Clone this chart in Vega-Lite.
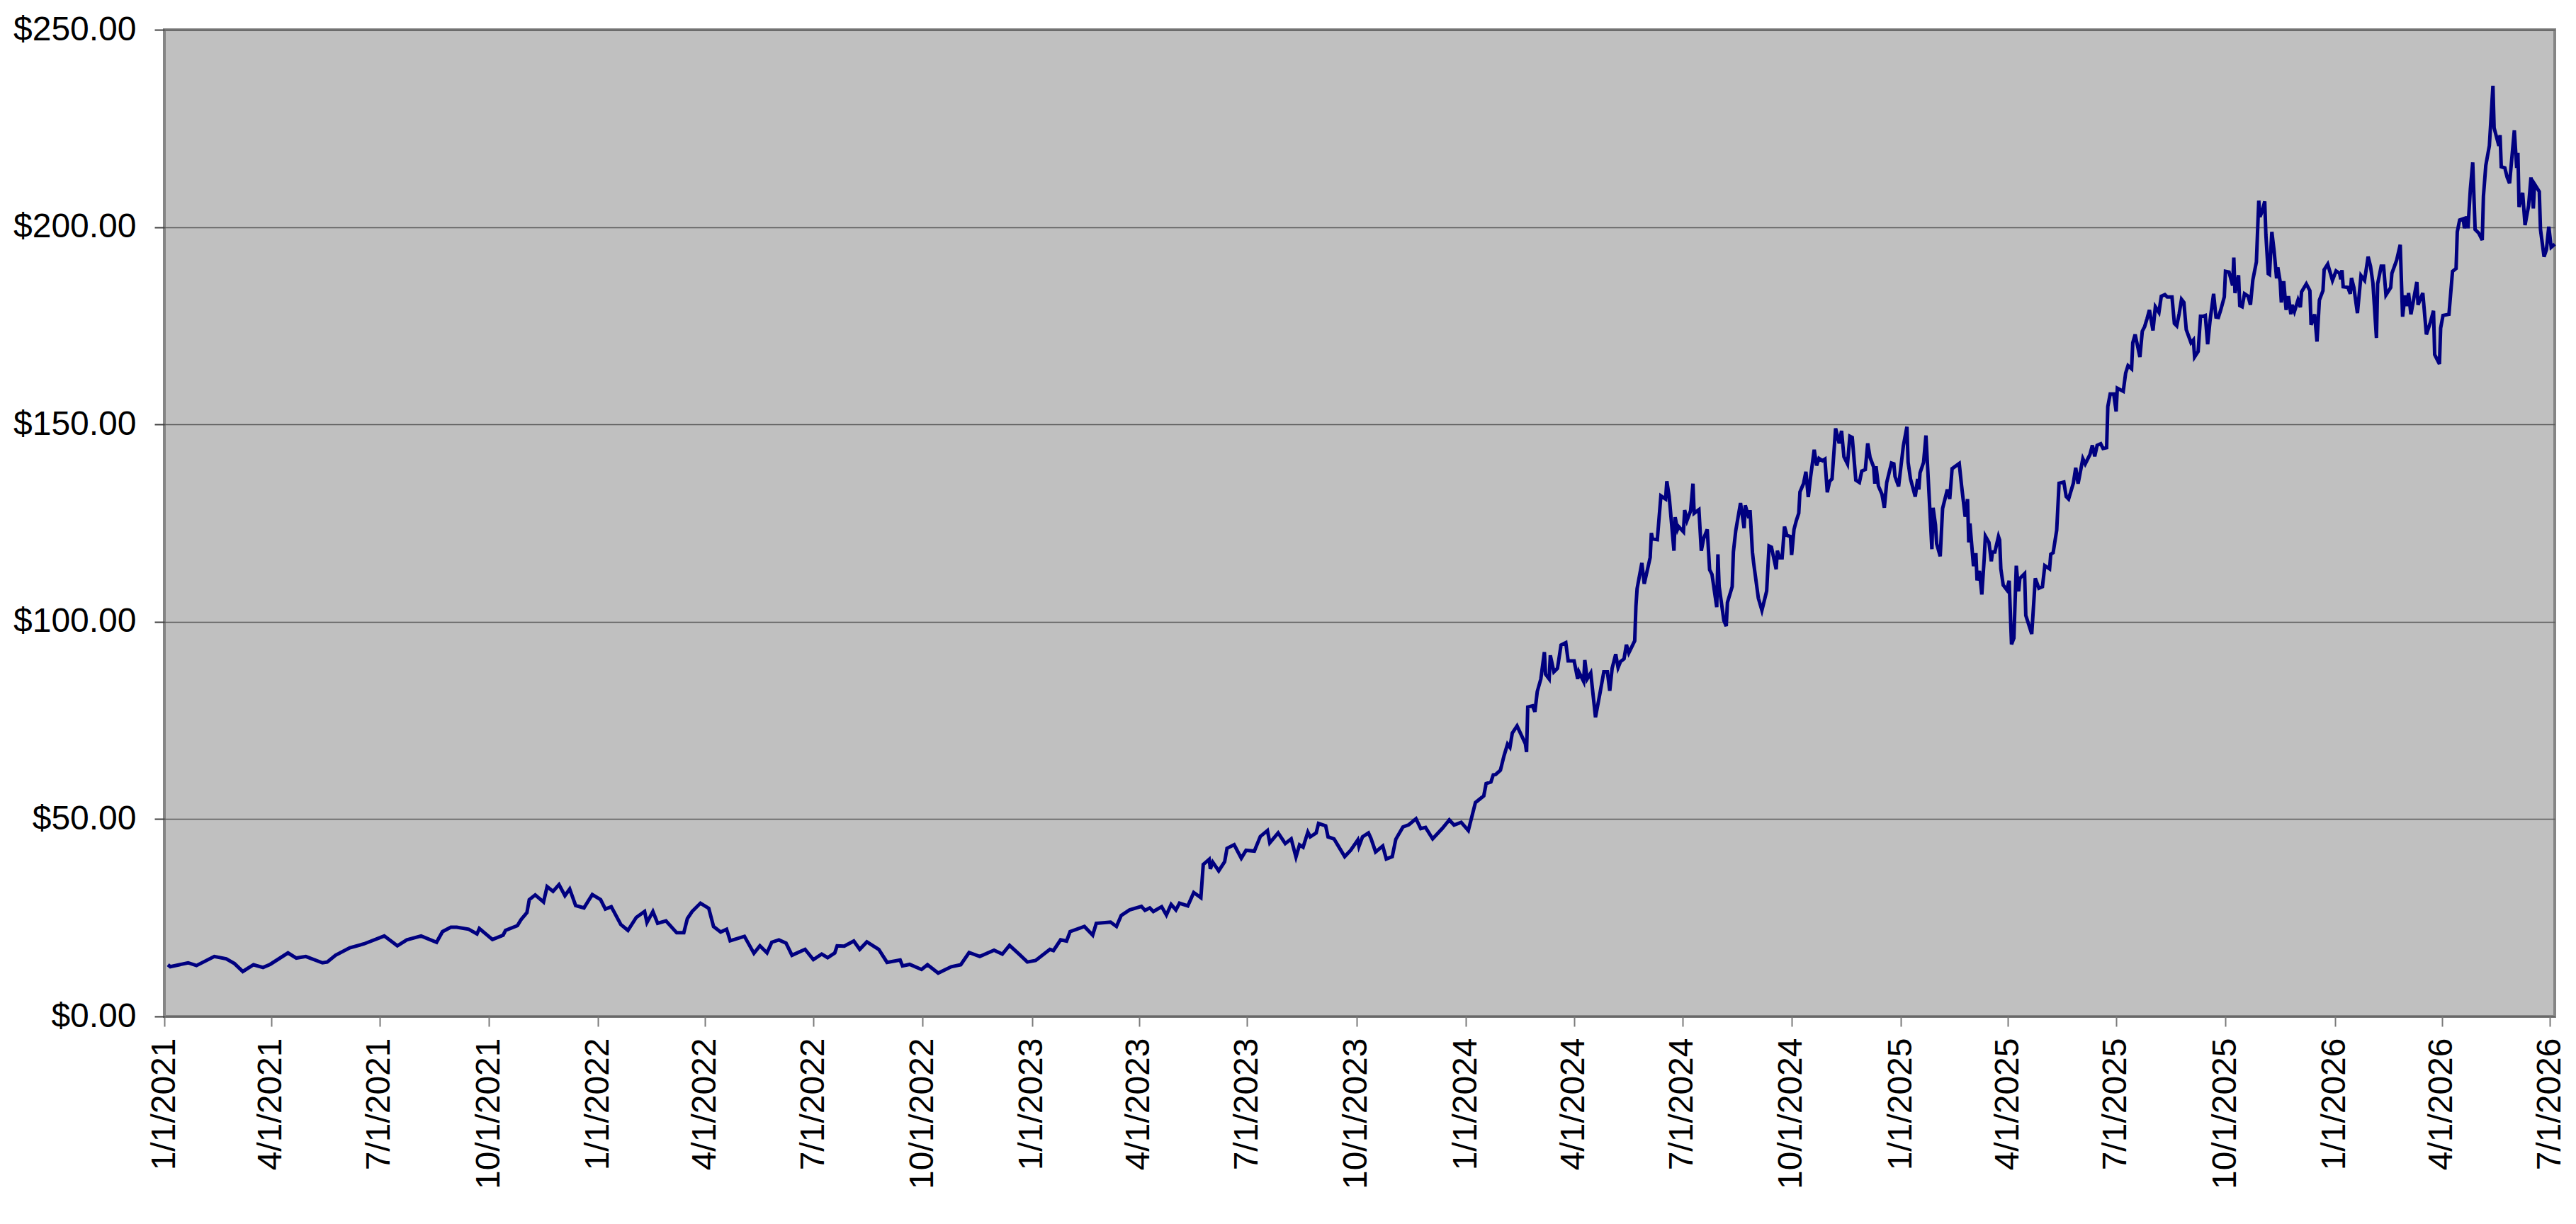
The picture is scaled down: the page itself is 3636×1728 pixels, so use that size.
{
  "$schema": "https://vega.github.io/schema/vega-lite/v6.json",
  "width": 3374,
  "height": 1393,
  "autosize": {"type": "none"},
  "padding": {"left": 232, "top": 42, "right": 30, "bottom": 293},
  "background": "white",
  "config": {"view": {"fill": "#C0C0C0", "stroke": "#858585", "strokeWidth": 4}},
  "data": {"values": [
    {"date": "2021-01-04", "price": 13.1}, {"date": "2021-01-06", "price": 12.6}, {"date": "2021-01-21", "price": 13.6}, {"date": "2021-01-28", "price": 12.9},
    {"date": "2021-02-12", "price": 15.2}, {"date": "2021-02-22", "price": 14.6}, {"date": "2021-03-01", "price": 13.4}, {"date": "2021-03-08", "price": 11.4},
    {"date": "2021-03-17", "price": 13.1}, {"date": "2021-03-25", "price": 12.4}, {"date": "2021-03-31", "price": 13.2}, {"date": "2021-04-15", "price": 16.1},
    {"date": "2021-04-22", "price": 14.8}, {"date": "2021-04-30", "price": 15.2}, {"date": "2021-05-14", "price": 13.6}, {"date": "2021-05-18", "price": 13.8},
    {"date": "2021-05-25", "price": 15.5}, {"date": "2021-06-06", "price": 17.4}, {"date": "2021-06-18", "price": 18.4}, {"date": "2021-07-05", "price": 20.4},
    {"date": "2021-07-16", "price": 17.9}, {"date": "2021-07-24", "price": 19.4}, {"date": "2021-08-05", "price": 20.4}, {"date": "2021-08-18", "price": 18.8},
    {"date": "2021-08-23", "price": 21.5}, {"date": "2021-08-30", "price": 22.6}, {"date": "2021-09-04", "price": 22.6}, {"date": "2021-09-14", "price": 22.1},
    {"date": "2021-09-21", "price": 20.9}, {"date": "2021-09-23", "price": 22.3}, {"date": "2021-10-04", "price": 19.5}, {"date": "2021-10-13", "price": 20.6},
    {"date": "2021-10-15", "price": 21.8}, {"date": "2021-10-25", "price": 23.0}, {"date": "2021-10-28", "price": 24.5}, {"date": "2021-11-02", "price": 26.3},
    {"date": "2021-11-04", "price": 29.6}, {"date": "2021-11-09", "price": 30.8}, {"date": "2021-11-16", "price": 29.0}, {"date": "2021-11-19", "price": 32.9},
    {"date": "2021-11-24", "price": 31.7}, {"date": "2021-11-29", "price": 33.4}, {"date": "2021-12-04", "price": 30.6}, {"date": "2021-12-08", "price": 32.3},
    {"date": "2021-12-13", "price": 28.1}, {"date": "2021-12-20", "price": 27.5}, {"date": "2021-12-27", "price": 30.9},
    {"date": "2022-01-03", "price": 29.6}, {"date": "2022-01-07", "price": 27.2}, {"date": "2022-01-12", "price": 27.8}, {"date": "2022-01-20", "price": 23.3},
    {"date": "2022-01-26", "price": 21.8}, {"date": "2022-02-02", "price": 25.1}, {"date": "2022-02-09", "price": 26.6}, {"date": "2022-02-11", "price": 23.8},
    {"date": "2022-02-16", "price": 26.6}, {"date": "2022-02-20", "price": 23.6}, {"date": "2022-02-27", "price": 24.2}, {"date": "2022-03-08", "price": 21.2},
    {"date": "2022-03-14", "price": 21.2}, {"date": "2022-03-17", "price": 24.8}, {"date": "2022-03-21", "price": 26.6}, {"date": "2022-03-28", "price": 28.7},
    {"date": "2022-04-04", "price": 27.4}, {"date": "2022-04-08", "price": 22.8}, {"date": "2022-04-14", "price": 21.4}, {"date": "2022-04-19", "price": 22.1},
    {"date": "2022-04-22", "price": 19.2}, {"date": "2022-05-04", "price": 20.3}, {"date": "2022-05-12", "price": 16.0}, {"date": "2022-05-17", "price": 17.9},
    {"date": "2022-05-23", "price": 16.1}, {"date": "2022-05-27", "price": 18.8}, {"date": "2022-06-02", "price": 19.4}, {"date": "2022-06-08", "price": 18.6},
    {"date": "2022-06-13", "price": 15.5}, {"date": "2022-06-24", "price": 17.0}, {"date": "2022-07-01", "price": 14.4}, {"date": "2022-07-08", "price": 15.8},
    {"date": "2022-07-13", "price": 14.9}, {"date": "2022-07-19", "price": 16.1}, {"date": "2022-07-21", "price": 17.9}, {"date": "2022-07-27", "price": 17.8},
    {"date": "2022-08-04", "price": 19.1}, {"date": "2022-08-09", "price": 17.0}, {"date": "2022-08-15", "price": 18.9}, {"date": "2022-08-25", "price": 17.0},
    {"date": "2022-09-01", "price": 13.7}, {"date": "2022-09-12", "price": 14.3}, {"date": "2022-09-14", "price": 12.8}, {"date": "2022-09-20", "price": 13.2},
    {"date": "2022-09-30", "price": 11.9}, {"date": "2022-10-05", "price": 13.1}, {"date": "2022-10-14", "price": 11.0}, {"date": "2022-10-25", "price": 12.6},
    {"date": "2022-11-02", "price": 13.1}, {"date": "2022-11-09", "price": 16.2}, {"date": "2022-11-18", "price": 15.2}, {"date": "2022-11-30", "price": 16.8},
    {"date": "2022-12-07", "price": 15.8}, {"date": "2022-12-13", "price": 18.0}, {"date": "2022-12-21", "price": 15.8}, {"date": "2022-12-28", "price": 13.8},
    {"date": "2023-01-04", "price": 14.2}, {"date": "2023-01-16", "price": 17.0}, {"date": "2023-01-19", "price": 16.7}, {"date": "2023-01-25", "price": 19.4},
    {"date": "2023-01-30", "price": 19.1}, {"date": "2023-02-02", "price": 21.5}, {"date": "2023-02-14", "price": 22.8}, {"date": "2023-02-21", "price": 20.6},
    {"date": "2023-02-24", "price": 23.6}, {"date": "2023-03-08", "price": 23.9}, {"date": "2023-03-13", "price": 22.8}, {"date": "2023-03-17", "price": 25.6},
    {"date": "2023-03-24", "price": 27.0}, {"date": "2023-04-03", "price": 27.9}, {"date": "2023-04-06", "price": 26.9}, {"date": "2023-04-10", "price": 27.5},
    {"date": "2023-04-13", "price": 26.6}, {"date": "2023-04-20", "price": 27.8}, {"date": "2023-04-24", "price": 25.7}, {"date": "2023-04-28", "price": 28.4},
    {"date": "2023-05-02", "price": 27.0}, {"date": "2023-05-05", "price": 28.7}, {"date": "2023-05-12", "price": 28.0}, {"date": "2023-05-17", "price": 31.4},
    {"date": "2023-05-23", "price": 30.1}, {"date": "2023-05-25", "price": 38.5}, {"date": "2023-05-30", "price": 39.8}, {"date": "2023-05-31", "price": 37.4},
    {"date": "2023-06-02", "price": 39.1}, {"date": "2023-06-07", "price": 36.9}, {"date": "2023-06-12", "price": 39.2}, {"date": "2023-06-14", "price": 42.6},
    {"date": "2023-06-20", "price": 43.5}, {"date": "2023-06-26", "price": 40.1}, {"date": "2023-06-30", "price": 42.1}, {"date": "2023-07-07", "price": 41.9},
    {"date": "2023-07-12", "price": 45.6}, {"date": "2023-07-18", "price": 47.1}, {"date": "2023-07-20", "price": 44.0}, {"date": "2023-07-27", "price": 46.5},
    {"date": "2023-08-02", "price": 43.8}, {"date": "2023-08-07", "price": 45.0}, {"date": "2023-08-11", "price": 40.4}, {"date": "2023-08-14", "price": 43.5},
    {"date": "2023-08-17", "price": 42.9}, {"date": "2023-08-21", "price": 46.7}, {"date": "2023-08-23", "price": 45.5}, {"date": "2023-08-28", "price": 46.5},
    {"date": "2023-08-30", "price": 48.9}, {"date": "2023-09-05", "price": 48.3}, {"date": "2023-09-07", "price": 45.5}, {"date": "2023-09-12", "price": 45.0},
    {"date": "2023-09-15", "price": 43.5}, {"date": "2023-09-21", "price": 40.5}, {"date": "2023-09-26", "price": 42.1}, {"date": "2023-10-02", "price": 44.7},
    {"date": "2023-10-03", "price": 43.1}, {"date": "2023-10-06", "price": 45.5}, {"date": "2023-10-11", "price": 46.5}, {"date": "2023-10-13", "price": 45.2},
    {"date": "2023-10-17", "price": 41.7}, {"date": "2023-10-23", "price": 43.2}, {"date": "2023-10-26", "price": 39.9}, {"date": "2023-10-31", "price": 40.5},
    {"date": "2023-11-03", "price": 44.9}, {"date": "2023-11-09", "price": 48.0}, {"date": "2023-11-14", "price": 48.6}, {"date": "2023-11-20", "price": 50.1},
    {"date": "2023-11-24", "price": 47.6}, {"date": "2023-11-28", "price": 47.9}, {"date": "2023-12-04", "price": 45.0}, {"date": "2023-12-12", "price": 47.6},
    {"date": "2023-12-18", "price": 49.8}, {"date": "2023-12-22", "price": 48.5}, {"date": "2023-12-28", "price": 49.2},
    {"date": "2024-01-03", "price": 47.1}, {"date": "2024-01-09", "price": 54.2}, {"date": "2024-01-16", "price": 55.9}, {"date": "2024-01-18", "price": 59.0},
    {"date": "2024-01-22", "price": 59.4}, {"date": "2024-01-24", "price": 61.2}, {"date": "2024-01-26", "price": 61.3}, {"date": "2024-01-30", "price": 62.4},
    {"date": "2024-02-02", "price": 66.0}, {"date": "2024-02-05", "price": 69.0}, {"date": "2024-02-07", "price": 68.2}, {"date": "2024-02-09", "price": 71.8},
    {"date": "2024-02-13", "price": 73.6}, {"date": "2024-02-20", "price": 69.1}, {"date": "2024-02-21", "price": 67.0}, {"date": "2024-02-22", "price": 78.4},
    {"date": "2024-02-26", "price": 78.7}, {"date": "2024-02-28", "price": 77.2}, {"date": "2024-03-01", "price": 82.3}, {"date": "2024-03-04", "price": 85.5},
    {"date": "2024-03-07", "price": 92.3}, {"date": "2024-03-08", "price": 86.7}, {"date": "2024-03-11", "price": 85.5}, {"date": "2024-03-12", "price": 91.5},
    {"date": "2024-03-15", "price": 87.3}, {"date": "2024-03-18", "price": 88.2}, {"date": "2024-03-21", "price": 94.1}, {"date": "2024-03-25", "price": 94.7},
    {"date": "2024-03-27", "price": 90.1}, {"date": "2024-04-01", "price": 90.1}, {"date": "2024-04-04", "price": 85.5}, {"date": "2024-04-05", "price": 87.3},
    {"date": "2024-04-09", "price": 84.9}, {"date": "2024-04-10", "price": 90.3}, {"date": "2024-04-12", "price": 85.5}, {"date": "2024-04-15", "price": 87.0},
    {"date": "2024-04-19", "price": 75.8}, {"date": "2024-04-23", "price": 82.3}, {"date": "2024-04-26", "price": 87.3}, {"date": "2024-04-29", "price": 87.3},
    {"date": "2024-05-01", "price": 82.5}, {"date": "2024-05-03", "price": 88.2}, {"date": "2024-05-06", "price": 91.8}, {"date": "2024-05-08", "price": 88.4},
    {"date": "2024-05-10", "price": 89.9}, {"date": "2024-05-13", "price": 90.6}, {"date": "2024-05-15", "price": 94.2}, {"date": "2024-05-17", "price": 92.1},
    {"date": "2024-05-22", "price": 95.2}, {"date": "2024-05-23", "price": 103.9}, {"date": "2024-05-24", "price": 108.4}, {"date": "2024-05-28", "price": 114.9},
    {"date": "2024-05-30", "price": 109.6}, {"date": "2024-06-04", "price": 116.3}, {"date": "2024-06-05", "price": 122.5}, {"date": "2024-06-06", "price": 121.0},
    {"date": "2024-06-10", "price": 120.8}, {"date": "2024-06-13", "price": 131.9}, {"date": "2024-06-17", "price": 131.1}, {"date": "2024-06-18", "price": 135.6},
    {"date": "2024-06-20", "price": 131.7}, {"date": "2024-06-24", "price": 118.0}, {"date": "2024-06-25", "price": 126.5}, {"date": "2024-06-27", "price": 123.4},
    {"date": "2024-06-28", "price": 124.1}, {"date": "2024-07-02", "price": 122.8}, {"date": "2024-07-03", "price": 128.3}, {"date": "2024-07-05", "price": 125.7},
    {"date": "2024-07-08", "price": 128.1}, {"date": "2024-07-10", "price": 135.0}, {"date": "2024-07-11", "price": 127.5}, {"date": "2024-07-15", "price": 128.4},
    {"date": "2024-07-17", "price": 118.0}, {"date": "2024-07-19", "price": 121.1}, {"date": "2024-07-22", "price": 123.4}, {"date": "2024-07-24", "price": 113.2},
    {"date": "2024-07-26", "price": 112.0}, {"date": "2024-07-30", "price": 103.7}, {"date": "2024-07-31", "price": 117.1}, {"date": "2024-08-01", "price": 109.0},
    {"date": "2024-08-05", "price": 100.3}, {"date": "2024-08-07", "price": 98.9}, {"date": "2024-08-08", "price": 104.9}, {"date": "2024-08-12", "price": 108.9},
    {"date": "2024-08-13", "price": 117.7}, {"date": "2024-08-15", "price": 123.1}, {"date": "2024-08-19", "price": 130.1}, {"date": "2024-08-21", "price": 126.0},
    {"date": "2024-08-22", "price": 123.7}, {"date": "2024-08-23", "price": 129.5}, {"date": "2024-08-26", "price": 126.3}, {"date": "2024-08-27", "price": 128.3},
    {"date": "2024-08-29", "price": 117.7}, {"date": "2024-08-30", "price": 115.0}, {"date": "2024-09-03", "price": 106.0}, {"date": "2024-09-06", "price": 102.9},
    {"date": "2024-09-10", "price": 107.8}, {"date": "2024-09-12", "price": 119.2}, {"date": "2024-09-14", "price": 118.9}, {"date": "2024-09-18", "price": 113.3},
    {"date": "2024-09-19", "price": 118.0}, {"date": "2024-09-21", "price": 116.2}, {"date": "2024-09-23", "price": 116.2}, {"date": "2024-09-25", "price": 124.1},
    {"date": "2024-09-27", "price": 121.9}, {"date": "2024-09-30", "price": 121.6}, {"date": "2024-10-01", "price": 116.9}, {"date": "2024-10-03", "price": 123.4},
    {"date": "2024-10-05", "price": 125.7}, {"date": "2024-10-07", "price": 127.5}, {"date": "2024-10-08", "price": 132.9}, {"date": "2024-10-11", "price": 135.0},
    {"date": "2024-10-13", "price": 138.0}, {"date": "2024-10-15", "price": 131.6}, {"date": "2024-10-17", "price": 136.8}, {"date": "2024-10-20", "price": 143.6},
    {"date": "2024-10-22", "price": 139.6}, {"date": "2024-10-24", "price": 141.4}, {"date": "2024-10-27", "price": 140.8}, {"date": "2024-10-29", "price": 141.2},
    {"date": "2024-10-31", "price": 132.8}, {"date": "2024-11-02", "price": 135.6}, {"date": "2024-11-04", "price": 136.2}, {"date": "2024-11-07", "price": 149.0},
    {"date": "2024-11-10", "price": 145.2}, {"date": "2024-11-12", "price": 148.4}, {"date": "2024-11-14", "price": 141.8}, {"date": "2024-11-17", "price": 140.0},
    {"date": "2024-11-19", "price": 147.0}, {"date": "2024-11-21", "price": 146.7}, {"date": "2024-11-24", "price": 135.9}, {"date": "2024-11-27", "price": 135.3},
    {"date": "2024-11-29", "price": 138.2}, {"date": "2024-12-02", "price": 138.6}, {"date": "2024-12-04", "price": 145.2}, {"date": "2024-12-06", "price": 141.6},
    {"date": "2024-12-09", "price": 139.2}, {"date": "2024-12-10", "price": 135.0}, {"date": "2024-12-11", "price": 139.4}, {"date": "2024-12-13", "price": 134.4},
    {"date": "2024-12-16", "price": 132.3}, {"date": "2024-12-18", "price": 128.9}, {"date": "2024-12-20", "price": 135.3}, {"date": "2024-12-24", "price": 140.2},
    {"date": "2024-12-26", "price": 140.0}, {"date": "2024-12-27", "price": 136.8}, {"date": "2024-12-30", "price": 134.3},
    {"date": "2025-01-03", "price": 144.6}, {"date": "2025-01-06", "price": 149.4}, {"date": "2025-01-07", "price": 140.4}, {"date": "2025-01-09", "price": 136.2},
    {"date": "2025-01-13", "price": 131.7}, {"date": "2025-01-15", "price": 136.2}, {"date": "2025-01-16", "price": 133.5}, {"date": "2025-01-17", "price": 137.7},
    {"date": "2025-01-20", "price": 140.4}, {"date": "2025-01-22", "price": 147.2}, {"date": "2025-01-24", "price": 135.9}, {"date": "2025-01-27", "price": 118.4},
    {"date": "2025-01-28", "price": 128.9}, {"date": "2025-01-30", "price": 124.6}, {"date": "2025-01-31", "price": 119.8}, {"date": "2025-02-03", "price": 116.6},
    {"date": "2025-02-05", "price": 128.7}, {"date": "2025-02-09", "price": 133.5}, {"date": "2025-02-11", "price": 131.1}, {"date": "2025-02-13", "price": 138.8},
    {"date": "2025-02-19", "price": 140.1}, {"date": "2025-02-21", "price": 134.4}, {"date": "2025-02-24", "price": 126.6}, {"date": "2025-02-26", "price": 131.1},
    {"date": "2025-02-27", "price": 120.1}, {"date": "2025-02-28", "price": 124.9}, {"date": "2025-03-03", "price": 114.1}, {"date": "2025-03-05", "price": 117.4},
    {"date": "2025-03-06", "price": 110.5}, {"date": "2025-03-08", "price": 112.9}, {"date": "2025-03-10", "price": 106.9}, {"date": "2025-03-12", "price": 115.9},
    {"date": "2025-03-13", "price": 121.7}, {"date": "2025-03-16", "price": 120.1}, {"date": "2025-03-18", "price": 115.3}, {"date": "2025-03-19", "price": 117.7},
    {"date": "2025-03-21", "price": 117.7}, {"date": "2025-03-24", "price": 121.6}, {"date": "2025-03-25", "price": 120.7}, {"date": "2025-03-26", "price": 113.4},
    {"date": "2025-03-28", "price": 109.3}, {"date": "2025-03-31", "price": 108.1}, {"date": "2025-04-02", "price": 110.4}, {"date": "2025-04-04", "price": 94.3},
    {"date": "2025-04-06", "price": 95.9}, {"date": "2025-04-08", "price": 114.2}, {"date": "2025-04-10", "price": 107.7}, {"date": "2025-04-11", "price": 111.0},
    {"date": "2025-04-15", "price": 112.2}, {"date": "2025-04-16", "price": 101.6}, {"date": "2025-04-21", "price": 96.9}, {"date": "2025-04-24", "price": 111.0},
    {"date": "2025-04-27", "price": 108.5}, {"date": "2025-04-30", "price": 108.9}, {"date": "2025-05-02", "price": 114.2}, {"date": "2025-05-06", "price": 113.4},
    {"date": "2025-05-07", "price": 117.1}, {"date": "2025-05-09", "price": 117.5}, {"date": "2025-05-12", "price": 123.2}, {"date": "2025-05-14", "price": 135.1},
    {"date": "2025-05-18", "price": 135.4}, {"date": "2025-05-20", "price": 131.7}, {"date": "2025-05-22", "price": 131.1}, {"date": "2025-05-26", "price": 135.1},
    {"date": "2025-05-28", "price": 139.0}, {"date": "2025-05-30", "price": 135.0}, {"date": "2025-06-03", "price": 141.3}, {"date": "2025-06-05", "price": 140.0},
    {"date": "2025-06-09", "price": 142.4}, {"date": "2025-06-11", "price": 144.7}, {"date": "2025-06-13", "price": 141.9}, {"date": "2025-06-15", "price": 144.7},
    {"date": "2025-06-18", "price": 145.1}, {"date": "2025-06-20", "price": 143.9}, {"date": "2025-06-23", "price": 144.1}, {"date": "2025-06-24", "price": 154.5},
    {"date": "2025-06-26", "price": 157.7}, {"date": "2025-06-29", "price": 157.7}, {"date": "2025-07-01", "price": 153.3}, {"date": "2025-07-02", "price": 159.2},
    {"date": "2025-07-07", "price": 158.4}, {"date": "2025-07-09", "price": 163.0}, {"date": "2025-07-11", "price": 164.9}, {"date": "2025-07-14", "price": 164.1},
    {"date": "2025-07-15", "price": 170.7}, {"date": "2025-07-17", "price": 172.8}, {"date": "2025-07-21", "price": 167.1}, {"date": "2025-07-23", "price": 173.6},
    {"date": "2025-07-25", "price": 174.8}, {"date": "2025-07-27", "price": 176.8}, {"date": "2025-07-29", "price": 179.0}, {"date": "2025-08-01", "price": 173.8},
    {"date": "2025-08-03", "price": 179.8}, {"date": "2025-08-06", "price": 178.4}, {"date": "2025-08-08", "price": 182.5}, {"date": "2025-08-11", "price": 182.9},
    {"date": "2025-08-13", "price": 182.3}, {"date": "2025-08-17", "price": 182.3}, {"date": "2025-08-19", "price": 175.6}, {"date": "2025-08-21", "price": 175.0},
    {"date": "2025-08-23", "price": 178.0}, {"date": "2025-08-25", "price": 181.7}, {"date": "2025-08-27", "price": 180.9}, {"date": "2025-08-29", "price": 174.0},
    {"date": "2025-09-02", "price": 170.7}, {"date": "2025-09-04", "price": 171.4}, {"date": "2025-09-05", "price": 167.1}, {"date": "2025-09-08", "price": 168.5},
    {"date": "2025-09-10", "price": 177.4}, {"date": "2025-09-12", "price": 177.4}, {"date": "2025-09-14", "price": 177.6}, {"date": "2025-09-16", "price": 170.3},
    {"date": "2025-09-18", "price": 176.3}, {"date": "2025-09-21", "price": 183.1}, {"date": "2025-09-23", "price": 177.2}, {"date": "2025-09-25", "price": 177.1},
    {"date": "2025-09-27", "price": 179.0}, {"date": "2025-09-30", "price": 182.3}, {"date": "2025-10-01", "price": 188.8}, {"date": "2025-10-04", "price": 188.6},
    {"date": "2025-10-07", "price": 185.2}, {"date": "2025-10-08", "price": 192.3}, {"date": "2025-10-09", "price": 183.3}, {"date": "2025-10-12", "price": 187.8},
    {"date": "2025-10-13", "price": 180.1}, {"date": "2025-10-15", "price": 179.8}, {"date": "2025-10-17", "price": 183.1}, {"date": "2025-10-20", "price": 182.5},
    {"date": "2025-10-22", "price": 180.3}, {"date": "2025-10-24", "price": 186.6}, {"date": "2025-10-27", "price": 191.2}, {"date": "2025-10-29", "price": 206.7},
    {"date": "2025-10-30", "price": 202.6}, {"date": "2025-11-01", "price": 204.1}, {"date": "2025-11-03", "price": 206.5}, {"date": "2025-11-04", "price": 198.0},
    {"date": "2025-11-06", "price": 188.2}, {"date": "2025-11-07", "price": 188.0}, {"date": "2025-11-09", "price": 198.8}, {"date": "2025-11-11", "price": 193.7},
    {"date": "2025-11-13", "price": 187.0}, {"date": "2025-11-14", "price": 189.8}, {"date": "2025-11-16", "price": 186.2}, {"date": "2025-11-17", "price": 180.9},
    {"date": "2025-11-19", "price": 186.3}, {"date": "2025-11-21", "price": 179.0}, {"date": "2025-11-23", "price": 182.5}, {"date": "2025-11-25", "price": 177.9},
    {"date": "2025-11-26", "price": 180.3}, {"date": "2025-11-28", "price": 178.6}, {"date": "2025-12-01", "price": 181.5}, {"date": "2025-12-03", "price": 179.7},
    {"date": "2025-12-04", "price": 183.6}, {"date": "2025-12-08", "price": 185.6}, {"date": "2025-12-11", "price": 183.9}, {"date": "2025-12-12", "price": 175.2},
    {"date": "2025-12-15", "price": 177.9}, {"date": "2025-12-17", "price": 171.0}, {"date": "2025-12-19", "price": 181.5}, {"date": "2025-12-22", "price": 183.9},
    {"date": "2025-12-23", "price": 189.2}, {"date": "2025-12-26", "price": 190.6}, {"date": "2025-12-30", "price": 186.5},
    {"date": "2026-01-02", "price": 188.9}, {"date": "2026-01-05", "price": 188.3}, {"date": "2026-01-06", "price": 186.8}, {"date": "2026-01-07", "price": 189.1},
    {"date": "2026-01-08", "price": 184.9}, {"date": "2026-01-12", "price": 184.7}, {"date": "2026-01-14", "price": 183.1}, {"date": "2026-01-15", "price": 187.1},
    {"date": "2026-01-17", "price": 184.7}, {"date": "2026-01-20", "price": 178.2}, {"date": "2026-01-23", "price": 187.7}, {"date": "2026-01-26", "price": 186.5},
    {"date": "2026-01-29", "price": 192.5}, {"date": "2026-01-31", "price": 190.1}, {"date": "2026-02-02", "price": 185.9}, {"date": "2026-02-05", "price": 171.9},
    {"date": "2026-02-06", "price": 185.6}, {"date": "2026-02-09", "price": 190.1}, {"date": "2026-02-11", "price": 190.1}, {"date": "2026-02-13", "price": 182.8},
    {"date": "2026-02-17", "price": 184.7}, {"date": "2026-02-18", "price": 188.3}, {"date": "2026-02-22", "price": 191.6}, {"date": "2026-02-25", "price": 195.5},
    {"date": "2026-02-27", "price": 177.3}, {"date": "2026-03-01", "price": 182.7}, {"date": "2026-03-03", "price": 180.0}, {"date": "2026-03-04", "price": 183.3},
    {"date": "2026-03-06", "price": 177.9}, {"date": "2026-03-11", "price": 186.1}, {"date": "2026-03-12", "price": 180.3}, {"date": "2026-03-16", "price": 183.3},
    {"date": "2026-03-19", "price": 172.8}, {"date": "2026-03-22", "price": 175.5}, {"date": "2026-03-25", "price": 178.8}, {"date": "2026-03-26", "price": 167.7},
    {"date": "2026-03-30", "price": 165.3}, {"date": "2026-03-31", "price": 174.4}, {"date": "2026-04-02", "price": 177.6}, {"date": "2026-04-07", "price": 177.9},
    {"date": "2026-04-10", "price": 188.8}, {"date": "2026-04-13", "price": 189.5}, {"date": "2026-04-14", "price": 198.8}, {"date": "2026-04-16", "price": 201.8},
    {"date": "2026-04-19", "price": 202.1}, {"date": "2026-04-20", "price": 199.7}, {"date": "2026-04-22", "price": 202.7}, {"date": "2026-04-23", "price": 199.7},
    {"date": "2026-04-25", "price": 209.6}, {"date": "2026-04-27", "price": 216.4}, {"date": "2026-04-29", "price": 199.4}, {"date": "2026-05-02", "price": 198.5},
    {"date": "2026-05-05", "price": 196.7}, {"date": "2026-05-06", "price": 207.8}, {"date": "2026-05-08", "price": 215.6}, {"date": "2026-05-11", "price": 220.6},
    {"date": "2026-05-14", "price": 235.8}, {"date": "2026-05-15", "price": 225.1}, {"date": "2026-05-19", "price": 220.6}, {"date": "2026-05-20", "price": 223.3},
    {"date": "2026-05-21", "price": 215.3}, {"date": "2026-05-24", "price": 215.0}, {"date": "2026-05-26", "price": 212.6}, {"date": "2026-05-28", "price": 211.1},
    {"date": "2026-06-01", "price": 224.5}, {"date": "2026-06-03", "price": 215.0}, {"date": "2026-06-04", "price": 218.8}, {"date": "2026-06-05", "price": 205.1},
    {"date": "2026-06-08", "price": 208.7}, {"date": "2026-06-10", "price": 200.5}, {"date": "2026-06-13", "price": 205.4}, {"date": "2026-06-15", "price": 212.6},
    {"date": "2026-06-17", "price": 204.7}, {"date": "2026-06-18", "price": 210.9}, {"date": "2026-06-22", "price": 209.0}, {"date": "2026-06-23", "price": 199.4},
    {"date": "2026-06-26", "price": 192.5}, {"date": "2026-06-28", "price": 194.3}, {"date": "2026-06-30", "price": 200.1}, {"date": "2026-07-02", "price": 194.9},
    {"date": "2026-07-05", "price": 195.7}
  ]},
  "mark": {"type": "line", "color": "#000080", "strokeWidth": 5},
  "encoding": {
    "x": {
      "field": "date",
      "type": "temporal",
      "scale": {"type": "utc", "domain": [{"year": 2021, "month": 1, "date": 1, "utc": true}, {"year": 2026, "month": 7, "date": 5, "utc": true}]},
      "axis": {
        "title": null,
        "values": [
          {"year": 2021, "month": 1, "date": 1, "utc": true}, {"year": 2021, "month": 4, "date": 1, "utc": true}, {"year": 2021, "month": 7, "date": 1, "utc": true}, {"year": 2021, "month": 10, "date": 1, "utc": true},
          {"year": 2022, "month": 1, "date": 1, "utc": true}, {"year": 2022, "month": 4, "date": 1, "utc": true}, {"year": 2022, "month": 7, "date": 1, "utc": true}, {"year": 2022, "month": 10, "date": 1, "utc": true},
          {"year": 2023, "month": 1, "date": 1, "utc": true}, {"year": 2023, "month": 4, "date": 1, "utc": true}, {"year": 2023, "month": 7, "date": 1, "utc": true}, {"year": 2023, "month": 10, "date": 1, "utc": true},
          {"year": 2024, "month": 1, "date": 1, "utc": true}, {"year": 2024, "month": 4, "date": 1, "utc": true}, {"year": 2024, "month": 7, "date": 1, "utc": true}, {"year": 2024, "month": 10, "date": 1, "utc": true},
          {"year": 2025, "month": 1, "date": 1, "utc": true}, {"year": 2025, "month": 4, "date": 1, "utc": true}, {"year": 2025, "month": 7, "date": 1, "utc": true}, {"year": 2025, "month": 10, "date": 1, "utc": true},
          {"year": 2026, "month": 1, "date": 1, "utc": true}, {"year": 2026, "month": 4, "date": 1, "utc": true}, {"year": 2026, "month": 7, "date": 1, "utc": true}
        ],
        "labelExpr": "utcFormat(datum.value, '%-m/%-d/%Y')",
        "labelAngle": 270,
        "labelAlign": "right",
        "labelBaseline": "middle",
        "labelFont": "Liberation Sans, Arial",
        "labelFontSize": 48,
        "labelColor": "#000000",
        "labelPadding": 16,
        "labelLimit": 0,
        "labelFlush": false,
        "labelOverlap": false,
        "labelBound": false,
        "tickSize": 14,
        "tickColor": "#7a7a7a",
        "tickWidth": 2,
        "domain": false,
        "grid": false
      }
    },
    "y": {
      "field": "price",
      "type": "quantitative",
      "scale": {"domain": [0, 250], "nice": false, "zero": true},
      "axis": {
        "title": null,
        "values": [0, 50, 100, 150, 200, 250],
        "format": "$.2f",
        "labelFont": "Liberation Sans, Arial",
        "labelFontSize": 48,
        "labelColor": "#000000",
        "labelPadding": 26,
        "labelLimit": 0,
        "labelFlush": false,
        "labelOverlap": false,
        "tickSize": 14,
        "tickColor": "#404040",
        "tickWidth": 2,
        "domain": false,
        "grid": true,
        "gridColor": "#5a5a5a",
        "gridWidth": 1.5
      }
    }
  }
}
